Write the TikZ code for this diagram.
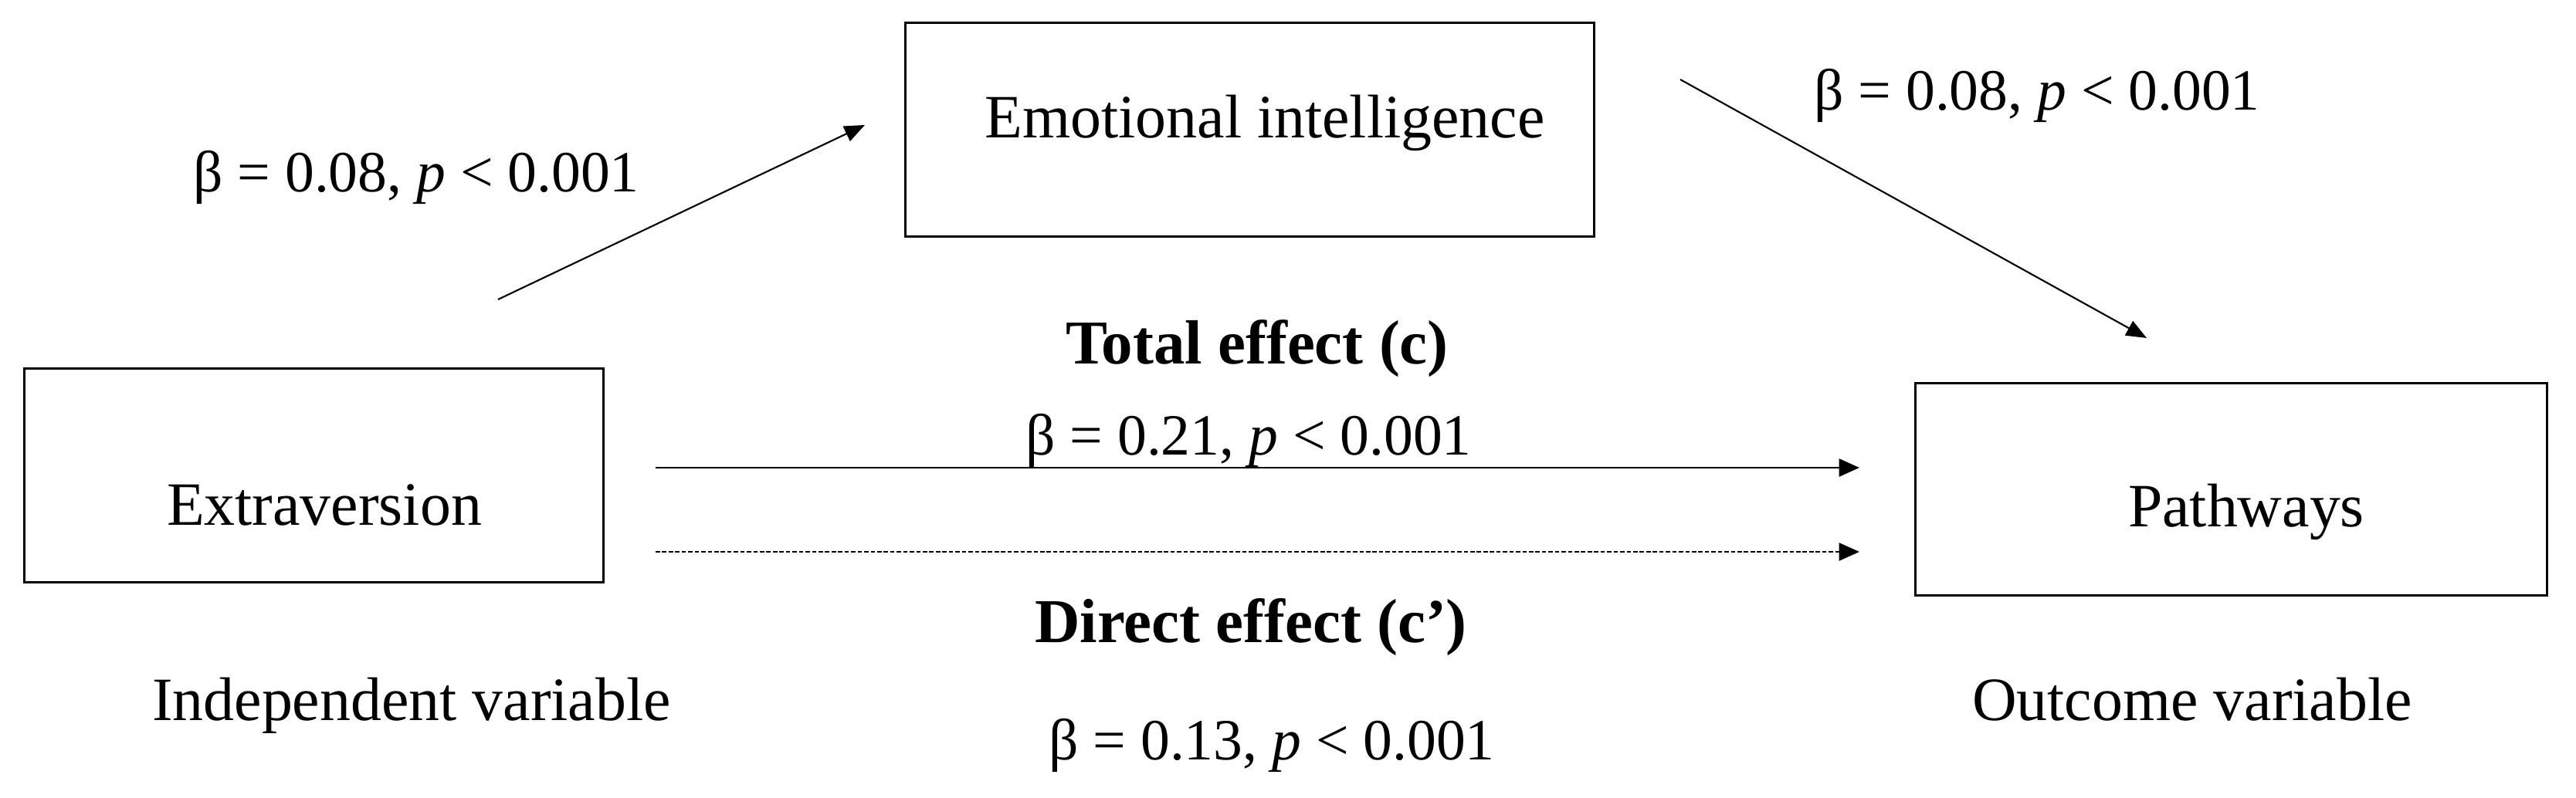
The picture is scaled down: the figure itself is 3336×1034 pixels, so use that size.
\documentclass[tikz,border=0pt]{standalone}
\usepackage{fontspec}
\setmainfont{Liberation Serif}
\usetikzlibrary{arrows.meta}
\begin{document}
\begin{tikzpicture}[x=0.01cm,y=-0.01cm,
  box/.style={draw, line width=0.85pt, inner sep=0pt},
  lbl/.style={anchor=base, inner sep=0pt, font=\fontsize{22.7}{27}\selectfont},
  clbl/.style={lbl, font=\fontsize{21.5}{26}\selectfont},
  blbl/.style={lbl, font=\fontsize{23}{27}\selectfont\bfseries},
  arr/.style={line width=0.6pt, -{Triangle[length=7.5pt,width=6pt]}},
  harr/.style={line width=0.85pt, -{Triangle[length=7.5pt,width=6.5pt]}},
  darr/.style={harr, dash pattern=on 1.6pt off 0.8pt}
]
\useasboundingbox (0,0) rectangle (3336,1034);
% boxes
\node[box, minimum width=7.49cm, minimum height=2.77cm] (ext) at (406.5,616) {};
\node[box, minimum width=8.91cm, minimum height=2.77cm] (ei) at (1618.5,168) {};
\node[box, minimum width=8.17cm, minimum height=2.75cm] (pw) at (2889.5,634) {};
% box texts
\node[lbl] (exttxt) at (420,681) {Extraversion};
\node[lbl] (eitxt) at (1638,179) {Emotional intelligence};
\node[lbl] (pwtxt) at (2909,683) {Pathways};
% side labels
\node[lbl] (iv) at (533,933) {Independent variable};
\node[lbl] (ov) at (2839,933) {Outcome variable};
% coefficient labels
\node[clbl] (a) at (539,249) {β = 0.08, \textit{p} < 0.001};
\node[clbl] (b) at (2638,143) {β = 0.08, \textit{p} < 0.001};
\node[blbl] (tot) at (1628,472) {Total effect (c)};
\node[clbl] (c) at (1617,590) {β = 0.21, \textit{p} < 0.001};
\node[blbl] (dir) at (1620,832) {Direct effect (c’)};
\node[clbl] (cp) at (1647,984) {β = 0.13, \textit{p} < 0.001};
% connector end points
\coordinate (a1) at (645,388);
\coordinate (a2) at (1120,162);
\coordinate (b1) at (2176,103);
\coordinate (b2) at (2780,438);
\coordinate (t1) at (849,606);
\coordinate (t2) at (2408,606);
\coordinate (d1) at (849,715);
\coordinate (d2) at (2408,715);
% connectors
\draw[arr] (a1) -- (a2);
\draw[arr] (b1) -- (b2);
\draw[harr] (t1) -- (t2);
\draw[darr] (d1) -- (d2);
\end{tikzpicture}
\end{document}
